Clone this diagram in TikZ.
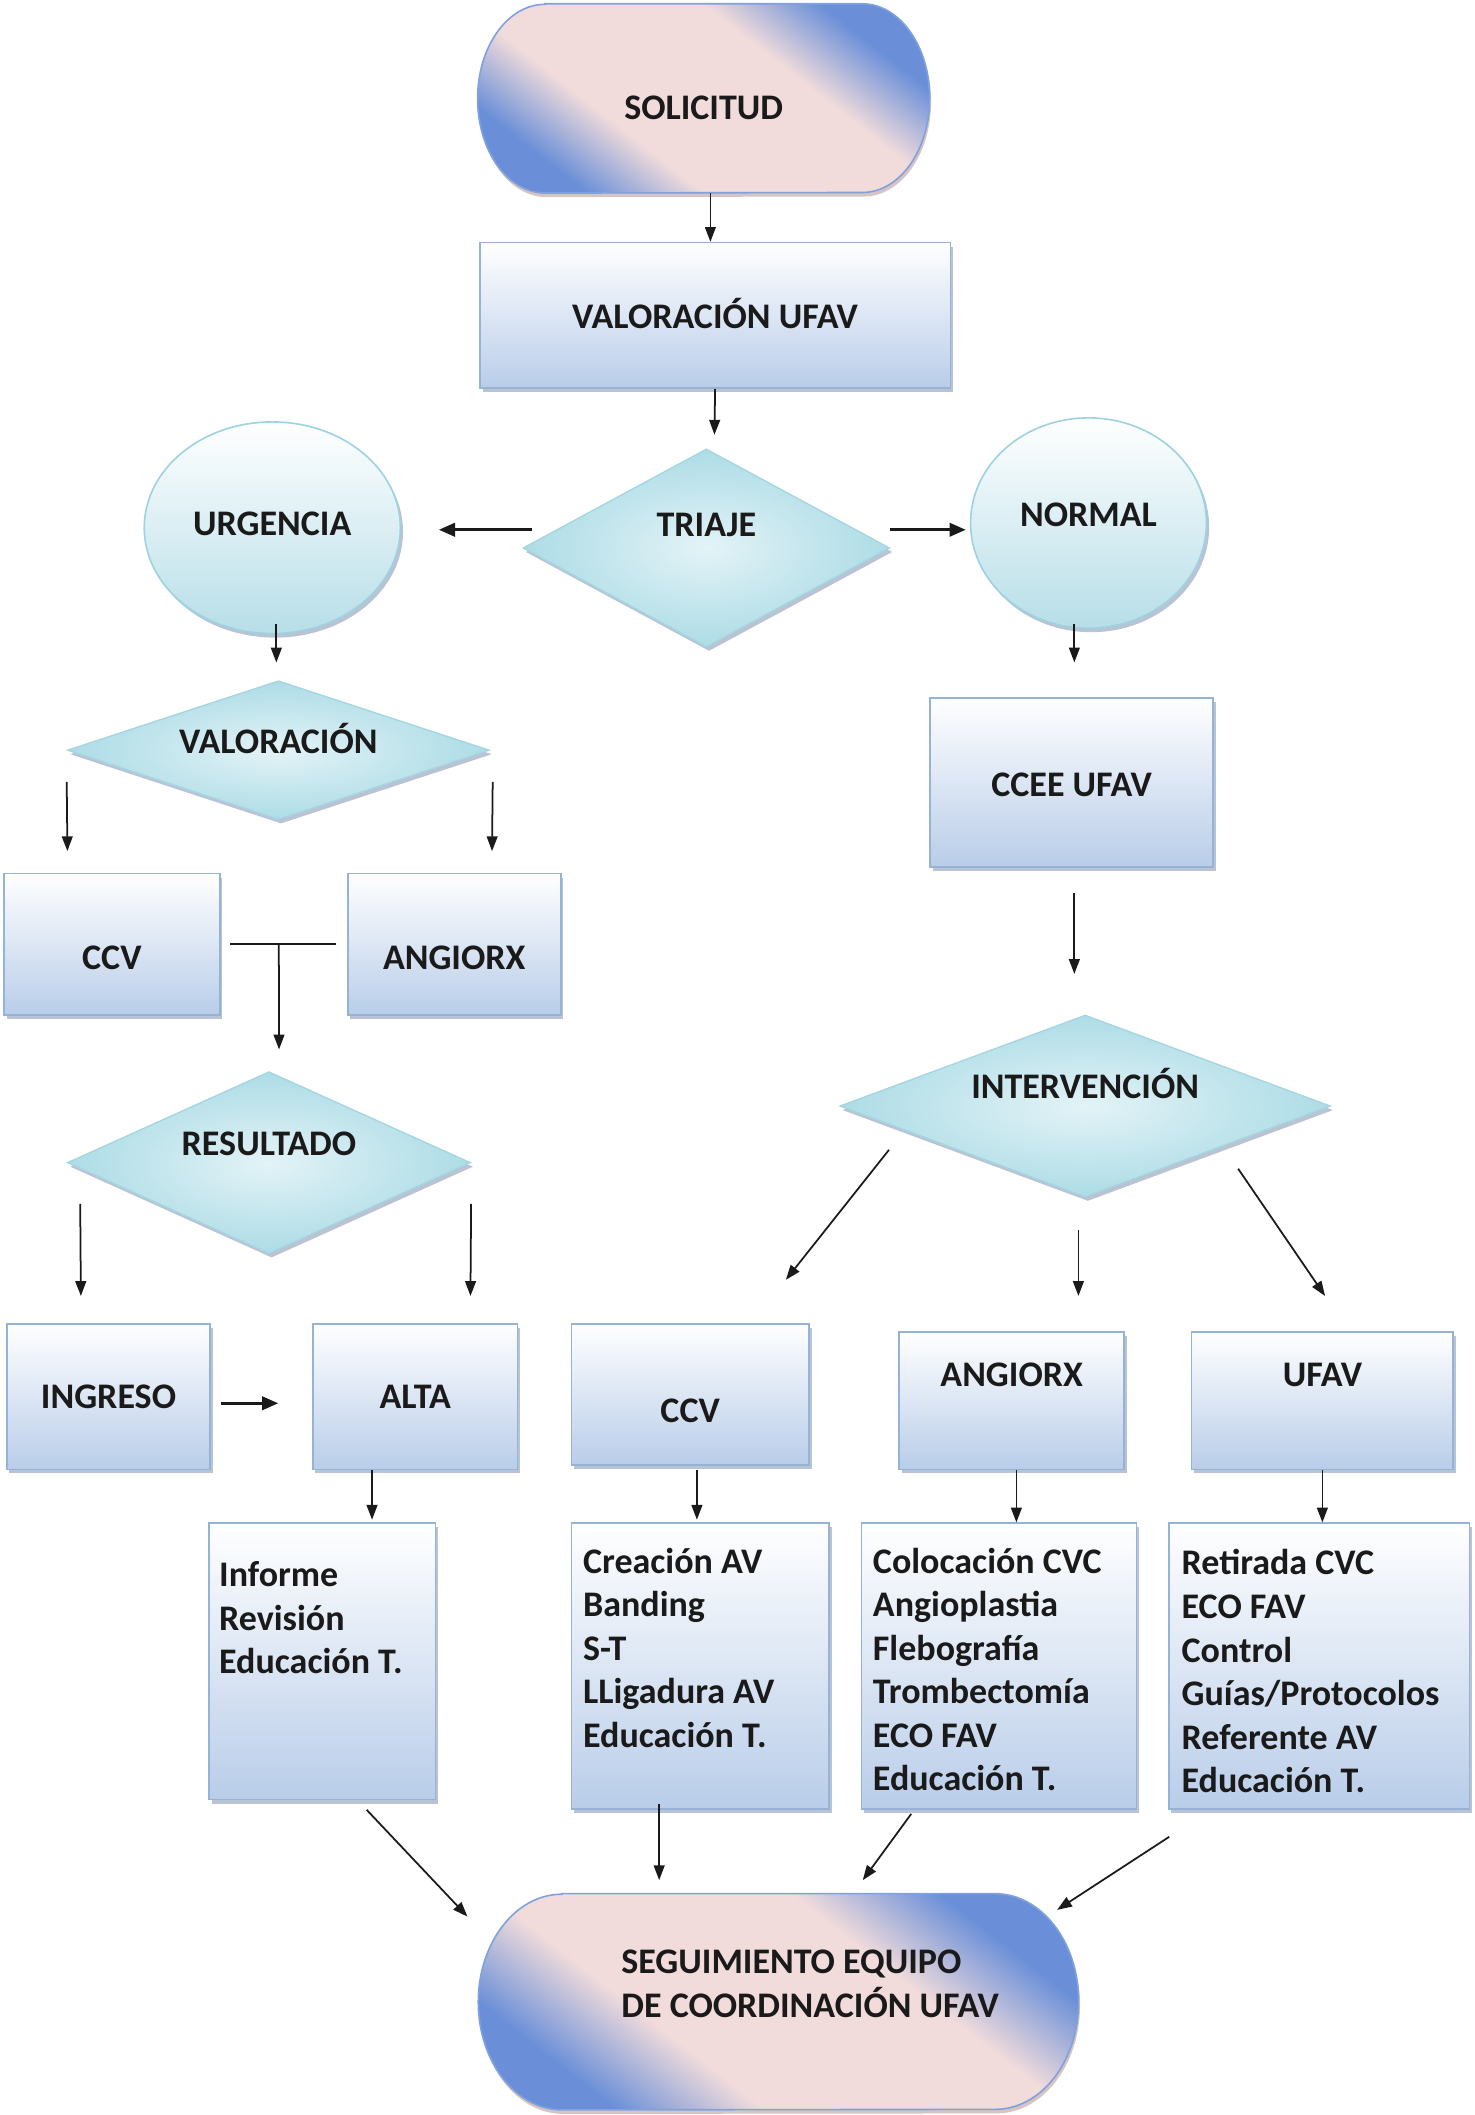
\documentclass[tikz,border=0pt]{standalone}
\usepackage{fontspec}
\setmainfont{Carlito}
\usetikzlibrary{shapes.geometric,arrows.meta,shadows,backgrounds}
\definecolor{tpink}{HTML}{F2DCDB}
\definecolor{tblue}{HTML}{6A8FD8}
\definecolor{tline}{HTML}{7FA2DE}
\definecolor{tshadow}{HTML}{B08A86}
\definecolor{bblue}{HTML}{B9CDE9}
\definecolor{bline}{HTML}{95B3D7}
\definecolor{shc}{HTML}{8A9BB5}
\definecolor{ecyan}{HTML}{B7DEE8}
\definecolor{eline}{HTML}{9DD3E0}
\definecolor{dlight}{HTML}{E3F3F7}
\definecolor{ddark}{HTML}{ADDCE6}
\definecolor{dline}{HTML}{A4D6E2}
\definecolor{txtc}{HTML}{1A1A1A}
\pgfdeclarehorizontalshading{termshade}{100bp}{color(0bp)=(tblue); color(26bp)=(tblue); color(38bp)=(tpink); color(62bp)=(tpink); color(74bp)=(tblue); color(100bp)=(tblue)}

\begin{document}
\begin{tikzpicture}[x=1pt,y=-1pt,
  txt/.style={font=\bfseries\fontsize{26.7}{32}\selectfont, text=txtc, inner sep=0pt, text height=17.2pt, text depth=0pt},
  txtb/.style={font=\bfseries\fontsize{26.7}{33}\selectfont, text=txtc, inner sep=0pt, align=left},
  lst/.style={font=\bfseries\fontsize{26.7}{32.3}\selectfont, text=txtc, inner sep=0pt, align=left, anchor=north west},
  shad/.style={drop shadow={shadow xshift=2pt, shadow yshift=-3pt, opacity=0.6, fill=shc}},
  holder/.style={rectangle, inner sep=0pt},
  term/.style={shade, shading=termshade, shading angle=52, draw=tline, line width=1.2pt,
    drop shadow={shadow xshift=1pt, shadow yshift=-3pt, opacity=0.5, fill=tshadow}},
  box/.style={rectangle, inner sep=0pt, draw=bline, line width=1.2pt, top color=white, bottom color=bblue, shad},
  oval/.style={ellipse, inner sep=0pt, draw=eline, line width=1.2pt, top color=white, bottom color=ecyan, shad},
  dia/.style={diamond, inner sep=0pt, draw=dline, line width=1pt, inner color=dlight, outer color=ddark, shad},
  arr/.style={draw=txtc, line width=1.3pt, -{Triangle[length=11pt,width=8pt]}},
  bold arr/.style={arr, line width=2pt, -{Triangle[length=12pt,width=10pt]}},
]
\useasboundingbox (0,0) rectangle (1094,1569);

\node[holder, minimum width=335pt, minimum height=140pt, label={[txt,yshift=-7pt]center:SOLICITUD}] (sol) at (522,73) {};
\node[box, minimum width=349pt, minimum height=108pt, label={[txt,yshift=-1pt]center:VALORACIÓN UFAV}] (val) at (530.5,234) {};
\node[dia, minimum width=272pt, minimum height=147pt, label={[txt,yshift=17pt]center:TRIAJE}] (tri) at (524,406.5) {};
\node[oval, minimum width=190pt, minimum height=157pt, label={[txt,yshift=3pt]center:URGENCIA}] (urg) at (202,391.5) {};
\node[oval, minimum width=175pt, minimum height=156pt, label={[txt,yshift=6pt]center:NORMAL}] (nor) at (807.5,388) {};
\node[dia, minimum width=313pt, minimum height=103pt, label={[txt,yshift=6pt]center:VALORACIÓN}] (valo) at (206.5,556.5) {};
\node[box, minimum width=160pt, minimum height=105pt, label={[txt,yshift=-10pt]center:CCV}] (ccva) at (83,700.5) {};
\node[box, minimum width=158pt, minimum height=105pt, label={[txt,yshift=-10pt]center:ANGIORX}] (anga) at (337,700.5) {};
\node[dia, minimum width=299pt, minimum height=135pt, label={[txt,yshift=14pt]center:RESULTADO}] (res) at (199.5,862.5) {};
\node[box, minimum width=151pt, minimum height=108pt, label={[txt]center:INGRESO}] (ing) at (80.5,1036) {};
\node[box, minimum width=152pt, minimum height=108pt, label={[txt]center:ALTA}] (alta) at (308,1036) {};
\node[box, minimum width=168pt, minimum height=205pt] (inf) at (239,1232.5) {};
\node[box, minimum width=210pt, minimum height=125pt, label={[txt,yshift=-2pt]center:CCEE UFAV}] (ccee) at (795,580.5) {};
\node[dia, minimum width=364pt, minimum height=135pt, label={[txt,yshift=14pt]center:INTERVENCIÓN}] (int) at (805,820.5) {};
\node[box, minimum width=176pt, minimum height=105pt, label={[txt,yshift=-12pt]center:CCV}] (ccvb) at (512,1034.5) {};
\node[box, minimum width=167pt, minimum height=102pt, label={[txt,yshift=19pt]center:ANGIORX}] (angb) at (750.5,1039) {};
\node[box, minimum width=194pt, minimum height=102pt, label={[txt,yshift=19pt]center:UFAV}] (ufav) at (981,1039) {};
\node[box, minimum width=191pt, minimum height=212pt] (lccv) at (519.5,1236) {};
\node[box, minimum width=204pt, minimum height=212pt] (lang) at (741,1236) {};
\node[box, minimum width=223pt, minimum height=212pt] (lufav) at (978.5,1236) {};
\node[holder, minimum width=445pt, minimum height=160pt, label={[txtb,xshift=23.5pt,yshift=13.5pt]center:SEGUIMIENTO EQUIPO\\DE COORDINACIÓN UFAV}] (seg) at (577.5,1485) {};

\node[lst] (inft) at ([shift={(8,29)}]inf.north west) {Informe\\Revisión\\Educación T.};
\node[lst] (lccvt) at ([shift={(9,18.6)}]lccv.north west) {Creación AV\\Banding\\S-T\\LLigadura AV\\Educación T.};
\node[lst] (langt) at ([shift={(9,18.6)}]lang.north west) {Colocación CVC\\Angioplastia\\Flebografía\\Trombectomía\\ECO FAV\\Educación T.};
\node[lst] (lufavt) at ([shift={(10,20)}]lufav.north west) {Retirada CVC\\ECO FAV\\Control\\Guías/Protocolos\\Referente AV\\Educación T.};

\begin{scope}[on background layer]
\path[term] ([xshift=50pt]sol.north west) -- ([xshift=-50pt]sol.north east) arc[start angle=90, end angle=-90, x radius=50pt, y radius=70pt] -- ([xshift=50pt]sol.south west) arc[start angle=270, end angle=90, x radius=50pt, y radius=70pt] -- cycle;
\path[term] ([xshift=62pt]seg.north west) -- ([xshift=-62pt]seg.north east) arc[start angle=90, end angle=-90, x radius=62pt, y radius=80pt] -- ([xshift=62pt]seg.south west) arc[start angle=270, end angle=90, x radius=62pt, y radius=80pt] -- cycle;
\end{scope}

\draw[arr] ([xshift=5pt]sol.south) -- ([xshift=-3.5pt]val.north);
\draw[arr] (val.south) -- ([shift={(6,-10)}]tri.north);
\draw[bold arr] ([shift={(7,-13.5)}]tri.west) -- ([shift={(28,1.5)}]urg.east);
\draw[bold arr] ([shift={(0,-13.5)}]tri.east) -- ([shift={(-3,5)}]nor.west);
\draw[arr] ([shift={(3,-8)}]urg.south) -- ([shift={(-1.5,-13)}]valo.north);
\draw[arr] ([shift={(0,23.5)}]valo.west) -- ([shift={(-33,-16)}]ccva.north);
\draw[arr] ([shift={(2,23.5)}]valo.east) -- ([shift={(28,-16)}]anga.north);
\draw[draw=txtc, line width=1.6pt] ([xshift=7pt]ccva.east) -- coordinate[pos=0.46] (join) ([xshift=-8pt]anga.west);
\draw[arr] (join) -- ([shift={(7.5,-16)}]res.north);
\draw[arr] ([shift={(10,30.5)}]res.west) -- ([shift={(-20.5,-20)}]ing.north);
\draw[arr] ([shift={(0,30.5)}]res.east) -- ([shift={(41,-20)}]alta.north);
\draw[bold arr] ([shift={(7,5)}]ing.east) -- ([shift={(-25,5)}]alta.west);
\draw[arr] ([xshift=-32pt]alta.south) -- ([shift={(37,-2)}]inf.north);
\draw[arr] ([shift={(-10.5,-4)}]nor.south) -- ([shift={(2,-26)}]ccee.north);
\draw[arr] ([shift={(2,19)}]ccee.south) -- ([shift={(-8,-30)}]int.north);
\draw[arr] ([shift={(37,32.5)}]int.west) -- ([shift={(71,-32)}]ccvb.north);
\draw[arr] ([shift={(-5,24)}]int.south) -- ([shift={(49.5,-26)}]angb.north);
\draw[arr] ([shift={(-69,46.5)}]int.east) -- ([shift={(2,-26)}]ufav.north);
\draw[arr] ([shift={(5,3)}]ccvb.south) -- ([shift={(-2.5,-2)}]lccv.north);
\draw[arr] ([xshift=3.5pt]angb.south) -- ([xshift=13pt]lang.north);
\draw[arr] (ufav.south) -- ([xshift=2.5pt]lufav.north);
\draw[arr] ([shift={(33,7)}]inf.south) -- ([shift={(-8,17)}]seg.north west);
\draw[arr] ([shift={(-30.5,-4)}]lccv.south) -- ([shift={(-88.5,-10)}]seg.north);
\draw[arr] ([shift={(-65,3)}]lang.south) -- ([shift={(62.5,-10)}]seg.north);
\draw[arr] ([shift={(1,20)}]lufav.south west) -- ([shift={(-16,12)}]seg.north east);
\end{tikzpicture}
\end{document}
